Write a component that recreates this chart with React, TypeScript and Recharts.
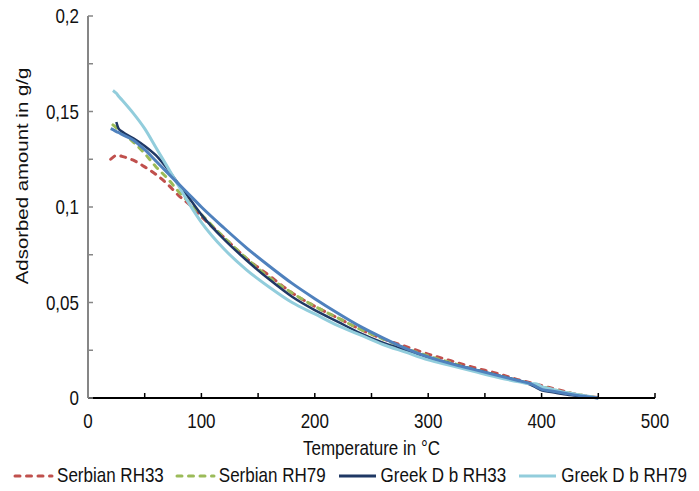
import { Label, Legend, Line, LineChart, XAxis, YAxis } from "recharts";

// Temperature in °C (x values shared by every series)
const temperature = [
  20, 22, 25, 27, 30, 40, 50, 60, 70, 80, 90, 100, 120, 140, 160, 180, 200, 220,
  240, 260, 280, 300, 320, 340, 360, 380, 390, 395, 400, 410, 420, 430, 440, 450,
];

// Adsorbed amount in g/g (null = no reading)
const serbianRH33 = [
  0.125, 0.126, 0.127, 0.127, 0.1265, 0.1245, 0.121, 0.117, 0.112, 0.106, 0.101, 0.095, 0.084, 0.073,
  0.064, 0.055, 0.048, 0.042, 0.036, 0.031, 0.027, 0.023, 0.0195, 0.016, 0.013, 0.0095, 0.008,
  0.0072, 0.0065, 0.005, 0.0035, 0.002, 0.001, 0.0002,
];
const serbianRH79 = [
  null, 0.143, 0.1415, 0.1405, 0.139, 0.134, 0.128, 0.121, 0.115, 0.108, 0.102, 0.096, 0.084, 0.073,
  0.063, 0.055, 0.048, 0.042, 0.036, 0.031, 0.026, 0.022, 0.0185, 0.015, 0.012, 0.009, 0.0075,
  0.007, 0.006, 0.0045, 0.003, 0.002, 0.001, 0,
];
const greekRH33 = [
  null, null, 0.1445, 0.141, 0.1395, 0.136, 0.132, 0.127, 0.12, 0.112, 0.104, 0.096, 0.083, 0.072,
  0.062, 0.053, 0.046, 0.04, 0.034, 0.029, 0.025, 0.021, 0.018, 0.015, 0.012, 0.009, 0.007,
  0.0055, 0.004, 0.003, 0.002, 0.0012, 0.0005, 0,
];
const greekRH79 = [
  null, 0.161, 0.1595, 0.158, 0.156, 0.149, 0.141, 0.131, 0.121, 0.111, 0.101, 0.092, 0.078, 0.067,
  0.058, 0.05, 0.044, 0.038, 0.033, 0.028, 0.024, 0.02, 0.017, 0.014, 0.011, 0.0085, 0.0075,
  0.0075, 0.006, 0.0045, 0.003, 0.002, 0.001, 0,
];
// fifth series, drawn but not in the legend
const unlabelled = [
  0.141, 0.1405, 0.1395, 0.139, 0.138, 0.135, 0.13, 0.124, 0.118, 0.112, 0.106, 0.1, 0.089, 0.0785,
  0.069, 0.06, 0.052, 0.0445, 0.0375, 0.0315, 0.026, 0.0215, 0.018, 0.015, 0.012, 0.009, 0.0075,
  0.006, 0.0045, 0.0035, 0.0025, 0.0015, 0.0007, 0,
];

const xTicks = [0, 50, 100, 150, 200, 250, 300, 350, 400, 450, 500];
const yTicks = [0, 0.025, 0.05, 0.075, 0.1, 0.125, 0.15, 0.175, 0.2];
const xLabelled = [0, 100, 200, 300, 400, 500];
const yLabelled = [0, 0.05, 0.1, 0.15, 0.2];

const legendItems = [
  { key: "s33", name: "Serbian RH33", color: "#C0504D", dashed: true },
  { key: "s79", name: "Serbian RH79", color: "#9BBB59", dashed: true },
  { key: "g33", name: "Greek D b RH33", color: "#1F3864", dashed: false },
  { key: "g79", name: "Greek D b RH79", color: "#92CDDC", dashed: false },
];

const data = temperature.map((t, i) => ({
  t,
  s33: serbianRH33[i],
  s79: serbianRH79[i],
  g33: greekRH33[i],
  g79: greekRH79[i],
  extra: unlabelled[i],
}));

const FONT = '"Liberation Sans", Arial, sans-serif';
const FONT_SIZE = 17;
const STRETCH = 1.2; // text in the picture is a bit taller than wide
const DASH = "5 6.5";

function TallText({ x, y, anchor, rotate, children }: any) {
  return (
    <text
      transform={`translate(${x},${y}) scale(1,${STRETCH})${rotate ? " rotate(-90)" : ""}`}
      textAnchor={anchor}
      dominantBaseline="central"
      fontFamily={FONT}
      fontSize={FONT_SIZE}
      fill="#111"
    >
      {children}
    </text>
  );
}

function XTick({ x, y, payload }: any) {
  if (!xLabelled.includes(payload.value)) return <g />;
  return <TallText x={x} y={y} anchor="middle">{String(payload.value)}</TallText>;
}

function YTick({ x, y, payload }: any) {
  if (!yLabelled.includes(payload.value)) return <g />;
  return (
    <TallText x={x} y={y} anchor="end">
      {String(payload.value).replace(".", ",")}
    </TallText>
  );
}

function LegendRow() {
  return (
    <div
      style={{
        display: "flex",
        justifyContent: "center",
        alignItems: "center",
        fontFamily: FONT,
        fontSize: FONT_SIZE,
        color: "#111",
        height: 26,
      }}
    >
      {legendItems.map((it, i) => (
        <span
          key={it.key}
          style={{
            display: "flex",
            alignItems: "center",
            marginRight: i < legendItems.length - 1 ? 10 : 0,
          }}
        >
          <svg width={42} height={10}>
            <line
              x1={3}
              x2={40}
              y1={5}
              y2={5}
              stroke={it.color}
              strokeWidth={3}
              strokeLinecap={it.dashed ? "round" : "butt"}
              strokeDasharray={it.dashed ? DASH : undefined}
            />
          </svg>
          <span style={{ marginLeft: 3, display: "inline-block", transform: `scaleY(${STRETCH})` }}>
            {it.name}
          </span>
        </span>
      ))}
    </div>
  );
}

export default function App() {
  return (
    <div style={{ width: 699, height: 491, background: "#fff" }}>
      <style>{"body{margin:0}"}</style>
      <LineChart
        width={699}
        height={491}
        data={data}
        margin={{ top: 16, right: 44, left: 0, bottom: 37 }}
      >
        <XAxis
          dataKey="t"
          type="number"
          domain={[0, 500]}
          ticks={xTicks}
          interval={0}
          height={30}
          tickSize={-5}
          tickMargin={28}
          tick={<XTick />}
          axisLine={{ stroke: "#000", strokeWidth: 2 }}
          tickLine={{ stroke: "#000", strokeWidth: 1.5 }}
        >
          <Label
            content={({ viewBox }: any) => (
              <TallText x={viewBox.x + viewBox.width / 2} y={448} anchor="middle">
                Temperature in °C
              </TallText>
            )}
          />
        </XAxis>
        <YAxis
          type="number"
          domain={[0, 0.2]}
          ticks={yTicks}
          interval={0}
          width={88}
          tickSize={-5}
          tickMargin={14}
          tick={<YTick />}
          axisLine={{ stroke: "#868686", strokeWidth: 2 }}
          tickLine={{ stroke: "#868686", strokeWidth: 1.5 }}
        >
          <Label
            content={() => (
              <TallText x={22} y={176} anchor="middle" rotate>
                Adsorbed amount in g/g
              </TallText>
            )}
          />
        </YAxis>
        <Legend
          content={<LegendRow />}
          wrapperStyle={{ top: 463, left: 0, width: 699, height: 26 }}
        />
        <Line
          dataKey="s33"
          type="monotone"
          stroke="#C0504D"
          strokeWidth={3}
          strokeLinecap="round"
          strokeDasharray={DASH}
          dot={false}
          isAnimationActive={false}
        />
        <Line
          dataKey="s79"
          type="monotone"
          stroke="#9BBB59"
          strokeWidth={3}
          strokeLinecap="round"
          strokeDasharray={DASH}
          dot={false}
          isAnimationActive={false}
        />
        <Line
          dataKey="g33"
          type="monotone"
          stroke="#1F3864"
          strokeWidth={2.5}
          dot={false}
          isAnimationActive={false}
        />
        <Line
          dataKey="g79"
          type="monotone"
          stroke="#92CDDC"
          strokeWidth={3}
          dot={false}
          isAnimationActive={false}
        />
        <Line
          dataKey="extra"
          type="monotone"
          stroke="#4F81BD"
          strokeWidth={3}
          dot={false}
          legendType="none"
          isAnimationActive={false}
        />
      </LineChart>
    </div>
  );
}
